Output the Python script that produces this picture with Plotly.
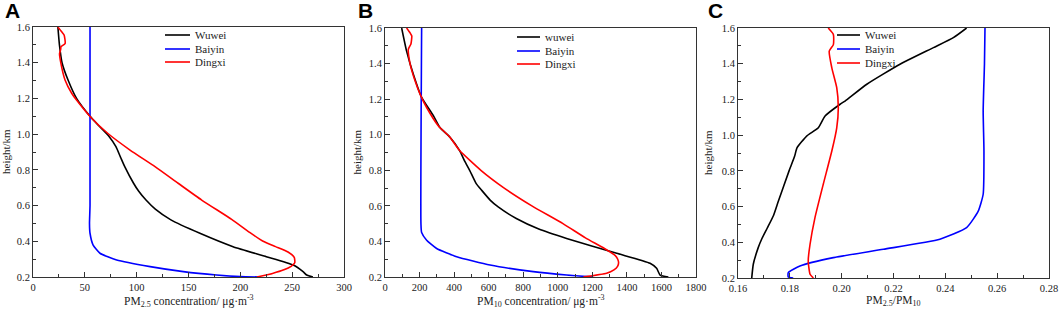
import plotly.graph_objects as go

# ---------------- data (height in km, value) ----------------
# Panel A: PM2.5 concentration
a_wuwei_h = [1.6, 1.5, 1.4, 1.3, 1.2, 1.1, 1.05, 0.99, 0.93, 0.87, 0.818, 0.725, 0.68, 0.631, 0.58, 0.52, 0.445, 0.37, 0.314, 0.267, 0.23, 0.211, 0.2]
a_wuwei_v = [24, 25.5, 28, 34, 42, 55, 63, 73, 80, 84.5, 88.5, 97, 102, 109, 118, 133, 161, 193, 225, 251, 260.5, 264, 270]
a_baiyin_h = [1.6, 0.6, 0.5, 0.445, 0.379, 0.333, 0.295, 0.258, 0.23, 0.211, 0.202, 0.2]
a_baiyin_v = [55, 55, 54.5, 55, 58, 64.6, 80.7, 113, 145, 177, 200, 219]
a_dingxi_h = [1.6, 1.573, 1.555, 1.508, 1.49, 1.475, 1.45, 1.4, 1.303, 1.229, 1.191, 1.089, 1.005, 0.911, 0.818, 0.725, 0.631, 0.523, 0.45, 0.4, 0.37, 0.34, 0.31, 0.28, 0.26, 0.24, 0.22, 0.2]
a_dingxi_v = [24, 27.7, 30, 31, 27, 26.7, 25.6, 26.8, 30.9, 37.3, 42, 56.6, 72, 93.6, 117.7, 140, 162.7, 191.6, 209, 222, 234, 246, 252, 252.5, 249, 242, 231, 216]

# Panel B: PM10 concentration
b_wuwei_h = [1.6, 1.47, 1.34, 1.21, 1.107, 1.04, 0.986, 0.911, 0.85, 0.8, 0.725, 0.687, 0.631, 0.594, 0.529, 0.47, 0.417, 0.333, 0.277, 0.249, 0.211, 0.2]
b_wuwei_v = [96.5, 125, 164, 212, 280, 318, 376, 432, 462, 490, 528, 560, 610, 655, 760, 890, 1051, 1341, 1534, 1572, 1592, 1640]
b_baiyin_h = [1.6, 0.5, 0.45, 0.407, 0.36, 0.314, 0.267, 0.23, 0.211, 0.2]
b_baiyin_v = [212, 208, 212, 241, 299, 415, 608, 858, 1051, 1205]
b_dingxi_h = [1.6, 1.573, 1.555, 1.51, 1.48, 1.4, 1.303, 1.228, 1.153, 1.051, 0.986, 0.911, 0.8, 0.7, 0.6, 0.5, 0.42, 0.36, 0.32, 0.3, 0.28, 0.26, 0.24, 0.221, 0.2]
b_dingxi_v = [125, 145, 155, 150, 135, 145, 174, 203, 241, 308, 376, 432, 555, 690, 850, 1030, 1160, 1270, 1333, 1347, 1352, 1346, 1325, 1283, 1148]

# Panel C: PM2.5/PM10 ratio
c_wuwei_h = [1.6, 1.546, 1.49, 1.397, 1.285, 1.191, 1.173, 1.107, 1.041, 0.995, 0.93, 0.88, 0.8, 0.631, 0.55, 0.48, 0.42, 0.37, 0.277, 0.2]
c_wuwei_v = [0.2482, 0.2431, 0.2354, 0.2225, 0.2097, 0.2013, 0.1994, 0.1936, 0.191, 0.1865, 0.1828, 0.1818, 0.1797, 0.1756, 0.1737, 0.1713, 0.1692, 0.1678, 0.1659, 0.1653]
c_baiyin_h = [1.6, 1.4, 1.135, 0.911, 0.669, 0.575, 0.482, 0.417, 0.361, 0.314, 0.267, 0.23, 0.206, 0.2]
c_baiyin_v = [0.2553, 0.2551, 0.2546, 0.2549, 0.2546, 0.2527, 0.2482, 0.2379, 0.2161, 0.1968, 0.1839, 0.1794, 0.1794, 0.1813]
c_dingxi_h = [1.6, 1.564, 1.507, 1.47, 1.377, 1.266, 1.154, 1.041, 0.911, 0.725, 0.538, 0.389, 0.295, 0.221, 0.2]
c_dingxi_v = [0.1948, 0.1968, 0.1968, 0.1952, 0.1962, 0.1981, 0.1987, 0.1981, 0.1962, 0.1929, 0.1897, 0.1878, 0.1871, 0.1878, 0.1891]

panel_labels = ["A", "B", "C"]
legend_names = [["Wuwei", "Baiyin", "Dingxi"], ["wuwei", "Baiyin", "Dingxi"], ["Wuwei", "Baiyin", "Dingxi"]]
x_titles = ["PM<sub>2.5</sub> concentration/ μg·m<sup>-3</sup>",
            "PM<sub>10</sub> concentration/ μg·m<sup>-3</sup>",
            "PM<sub>2.5</sub>/PM<sub>10</sub>"]
y_title = "height/km"
a_xticks = [0, 50, 100, 150, 200, 250, 300]
b_xticks = [0, 200, 400, 600, 800, 1000, 1200, 1400, 1600, 1800]
c_xticks = [0.16, 0.18, 0.20, 0.22, 0.24, 0.26, 0.28]
y_ticks = [0.2, 0.4, 0.6, 0.8, 1.0, 1.2, 1.4, 1.6]

# ---------------- figure ----------------
W, H = 1059, 311
SERIF = '"Liberation Serif", "Times New Roman", serif'
SANS = '"Liberation Sans", Arial, sans-serif'
colors = ["#000000", "#0000ff", "#ff0000"]
TXT = "#222"
AX = "#333"
TICK_FS = 10.5
LEG_FS = 11
TITLE_FS = 11.5

panels = [
    dict(series=[(a_wuwei_v, a_wuwei_h), (a_baiyin_v, a_baiyin_h), (a_dingxi_v, a_dingxi_h)],
         px=(33, 344), py=(27, 277), xr=[0, 300], ticks=a_xticks, mdt=25, fmt="d",
         leg=(165, 190, 193, [35, 49, 62]), ytx=-27, lbl=3),
    dict(series=[(b_wuwei_v, b_wuwei_h), (b_baiyin_v, b_baiyin_h), (b_dingxi_v, b_dingxi_h)],
         px=(385, 696), py=(28, 277), xr=[0, 1800], ticks=b_xticks, mdt=100, fmt="d",
         leg=(517, 540, 543, [37, 51, 64]), ytx=-29, lbl=356),
    dict(series=[(c_wuwei_v, c_wuwei_h), (c_baiyin_v, c_baiyin_h), (c_dingxi_v, c_dingxi_h)],
         px=(738, 1049), py=(28, 278), xr=[0.16, 0.28], ticks=c_xticks, mdt=0.01, fmt=".2f",
         leg=(837, 860, 863, [35, 49, 63]), ytx=-30, lbl=706),
]

fig = go.Figure()
layout = dict(width=W, height=H, margin=dict(l=0, r=0, t=0, b=0),
              paper_bgcolor="white", plot_bgcolor="white", showlegend=False,
              font=dict(family=SERIF, size=12, color=TXT))
annotations = []
shapes = []

for i, p in enumerate(panels):
    sfx = "" if i == 0 else str(i + 1)
    for j, (xs, ys) in enumerate(p["series"]):
        fig.add_trace(go.Scatter(
            x=xs, y=ys, mode="lines", name=legend_names[i][j],
            line=dict(color=colors[j], width=1.6, shape="spline", smoothing=0.5),
            xaxis="x" + sfx, yaxis="y" + sfx))
    axstyle = dict(showline=True, linecolor=AX, linewidth=1, mirror=True,
                   ticks="inside", ticklen=5, tickcolor=AX, tickwidth=1,
                   showgrid=False, zeroline=False, automargin=False,
                   ticklabeloverflow="allow",
                   tickfont=dict(family=SERIF, size=TICK_FS, color=TXT))
    layout["xaxis" + sfx] = dict(
        axstyle, domain=[p["px"][0] / W, p["px"][1] / W], range=p["xr"],
        tickmode="array", tickvals=p["ticks"], ticktext=[format(t, p["fmt"]) for t in p["ticks"]],
        minor=dict(dtick=p["mdt"], tick0=p["xr"][0], ticks="inside", ticklen=3, tickcolor=AX, showgrid=False),
        anchor="y" + sfx)
    layout["yaxis" + sfx] = dict(
        axstyle, domain=[1 - p["py"][1] / H, 1 - p["py"][0] / H], range=[0.2, 1.6],
        tickmode="array", tickvals=y_ticks, ticktext=["%.1f" % t for t in y_ticks],
        minor=dict(dtick=0.1, tick0=0.2, ticks="inside", ticklen=3, tickcolor=AX, showgrid=False),
        anchor="x" + sfx)
    # legend (drawn manually to match the compact spacing)
    lx0, lx1, tx, rows = p["leg"]
    for j in range(3):
        yy = 1 - rows[j] / H
        shapes.append(dict(type="line", xref="paper", yref="paper",
                           x0=lx0 / W, x1=lx1 / W, y0=yy, y1=yy,
                           line=dict(color=colors[j], width=1.6)))
        annotations.append(dict(text=legend_names[i][j], xref="paper", yref="paper",
                                x=tx / W, y=yy, xanchor="left", yanchor="middle",
                                showarrow=False,
                                font=dict(family=SERIF, size=LEG_FS, color=TXT)))
    # panel letter
    annotations.append(dict(text="<b>%s</b>" % panel_labels[i], xref="paper", yref="paper",
                            x=p["lbl"] / W, y=1 + 3 / H, xanchor="left", yanchor="top",
                            showarrow=False,
                            font=dict(family=SANS, size=21, color="black")))
    # y title
    annotations.append(dict(text=y_title, xref="paper", yref="paper", textangle=-90,
                            x=(p["px"][0] + p["ytx"]) / W, y=1 - (p["py"][0] + p["py"][1]) / 2 / H,
                            xanchor="center", yanchor="middle", showarrow=False,
                            font=dict(family=SERIF, size=LEG_FS, color=TXT)))
    # x title
    annotations.append(dict(text=x_titles[i], xref="paper", yref="paper",
                            x=(p["px"][0] + p["px"][1]) / 2 / W, y=1 - 301 / H,
                            xanchor="center", yanchor="middle", showarrow=False,
                            font=dict(family=SERIF, size=TITLE_FS, color=TXT)))

layout["annotations"] = annotations
layout["shapes"] = shapes
fig.update_layout(**layout)
fig.write_html("out.html", config={"displayModeBar": False},
               post_script="document.body.style.margin='0';document.body.style.padding='0';"
                           "document.body.style.overflow='hidden';")
